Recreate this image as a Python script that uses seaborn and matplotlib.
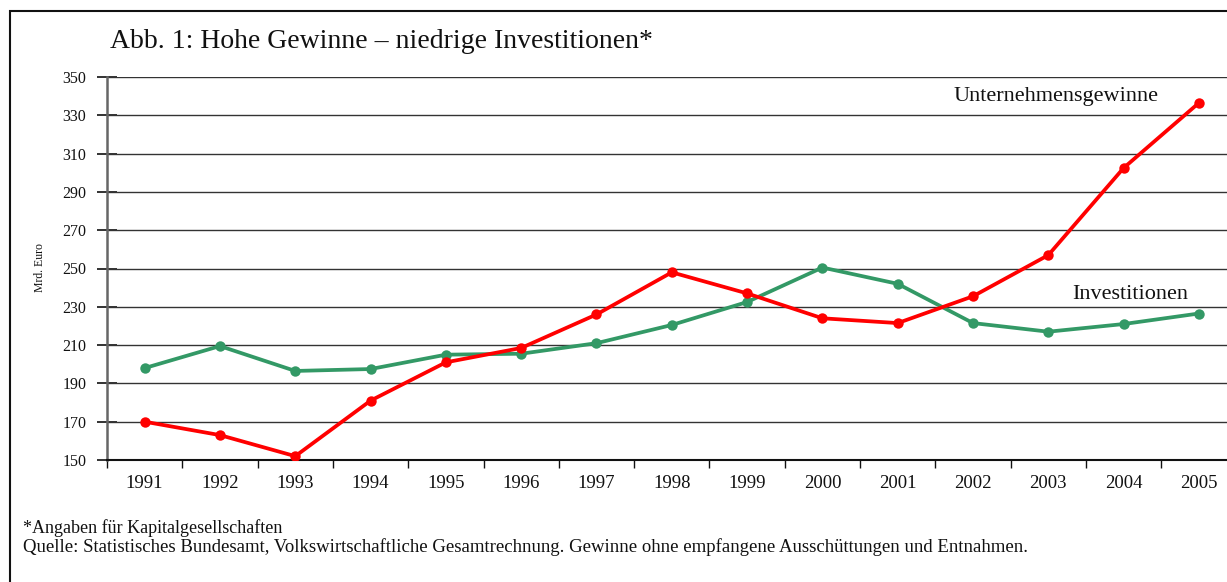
import numpy as np
import pandas as pd
import matplotlib
matplotlib.use("Agg")
import matplotlib.pyplot as plt
import matplotlib.patches as mpatches
import seaborn as sns

years = list(range(1991, 2006))
gewinne = [170, 163, 152, 181, 201, 208.5, 226, 248, 237, 224, 221.5, 235.5, 257, 302.5, 336.5]
investitionen = [198, 209.5, 196.5, 197.5, 205, 205.5, 211, 220.5, 232.5, 250.5, 242, 221.5, 217, 221, 226.5]
series_names = ["Unternehmensgewinne", "Investitionen"]
y_ticks = list(range(150, 351, 20))

title = "Abb. 1: Hohe Gewinne \u2013 niedrige Investitionen*"
note1 = "*Angaben f\u00fcr Kapitalgesellschaften"
note2 = ("Quelle: Statistisches Bundesamt, Volkswirtschaftliche Gesamtrechnung. "
         "Gewinne ohne empfangene Aussch\u00fcttungen und Entnahmen.")
ylabel = "Mrd. Euro"

df = pd.DataFrame({
    "Jahr": years * 2,
    "Wert": gewinne + investitionen,
    "Reihe": [series_names[0]] * len(years) + [series_names[1]] * len(years),
})

sns.set_style("white")
plt.rcParams["font.family"] = ["Liberation Serif", "DejaVu Serif"]

W, H = 1227, 582
fig = plt.figure(figsize=(W / 100, H / 100), dpi=100)
ax = fig.add_axes([107 / W, (H - 460) / H, (1236.6 - 107) / W, 383 / H])

colors = {series_names[0]: "#FF0000", series_names[1]: "#339966"}
sns.lineplot(data=df, x="Jahr", y="Wert", hue="Reihe", hue_order=[series_names[1], series_names[0]],
             palette=colors, marker="o", markersize=7.5, markeredgewidth=0,
             linewidth=2.7, legend=False, ax=ax, zorder=3)

ax.set_xlim(years[0] - 0.5, years[-1] + 0.5)
ax.set_ylim(150, 350)
ax.set_yticks(y_ticks)
ax.set_yticklabels([str(v) for v in y_ticks], fontsize=11.5)
ax.set_xticks(years)
ax.set_xticklabels([str(y) for y in years], fontsize=13.5)
ax.set_xticks(np.arange(years[0] - 0.5, years[-1] + 1, 1), minor=True)
ax.tick_params(axis="x", which="major", bottom=True, length=0, pad=11, colors="#111111")
ax.tick_params(axis="x", which="minor", bottom=True, length=6, width=1, direction="out", color="#111111")
ax.tick_params(axis="y", which="major", left=True, length=14, width=1.2, direction="inout", pad=8,
               color="#111111", labelcolor="#111111")
ax.set_xlabel("")
ax.set_ylabel("")

for v in y_ticks[1:]:
    ax.axhline(v, color="#333333", lw=1.0, zorder=1)

for s in ["top", "right"]:
    ax.spines[s].set_visible(False)
ax.spines["left"].set_color("#666666")
ax.spines["left"].set_linewidth(1.8)
ax.spines["bottom"].set_color("#111111")
ax.spines["bottom"].set_linewidth(1.5)

ax.text(2003.1, 339.6, series_names[0], ha="center", va="center", fontsize=16, color="#111111")
ax.text(2004.09, 236.2, series_names[1], ha="center", va="center", fontsize=16, color="#111111")

fig.text(110 / W, 1 - 48 / H, title, ha="left", va="baseline", fontsize=20, color="#111111")
fig.text(40 / W, 1 - 268 / H, ylabel, rotation=90, ha="center", va="center", fontsize=8.5, color="#111111")
fig.text(23 / W, 1 - 533 / H, note1, ha="left", va="baseline", fontsize=13, color="#111111")
fig.text(23 / W, 1 - 552 / H, note2, ha="left", va="baseline", fontsize=13.5, color="#111111")

border = mpatches.Rectangle((10 / W, -0.1), 1.2, 1 - 11 / H + 0.1, transform=fig.transFigure,
                            fill=False, edgecolor="#111111", lw=1.5, clip_on=False)
fig.add_artist(border)

fig.savefig("out.png", dpi=100)
